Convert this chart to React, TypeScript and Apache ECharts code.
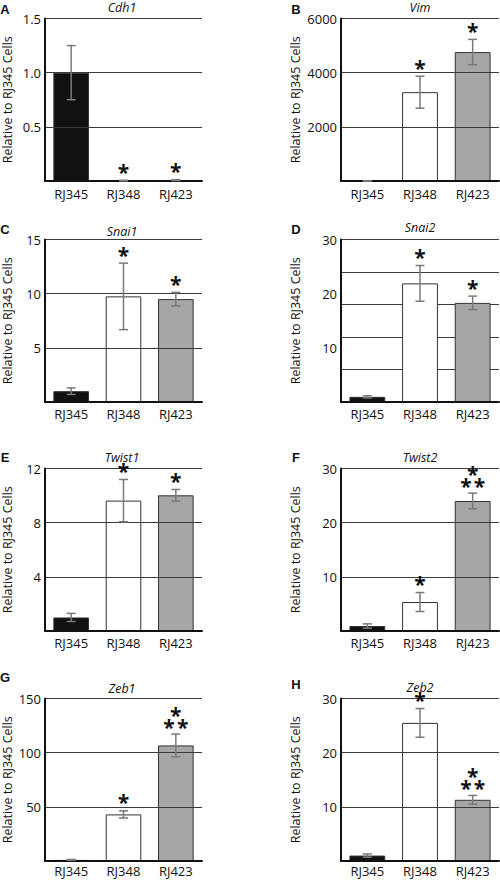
import React, { useEffect, useRef } from 'react';
import * as echarts from 'echarts';

// ---- data ----
const cellLines = ['RJ345', 'RJ348', 'RJ423'];
const yAxisName = 'Relative to RJ345 Cells';
const genes = ['Cdh1', 'Vim', 'Snai1', 'Snai2', 'Twist1', 'Twist2', 'Zeb1', 'Zeb2'];
const panelLetters = ['A', 'B', 'C', 'D', 'E', 'F', 'G', 'H'];

const cdh1Values = [1.0, 0.004, 0.008];
const cdh1Errors = [0.25, 0.003, 0.004];
const cdh1Stars = [0, 1, 1];

const vimValues = [1, 3280, 4760];
const vimErrors = [0.3, 590, 470];
const vimStars = [0, 1, 1];

const snai1Values = [1.0, 9.75, 9.5];
const snai1Errors = [0.3, 3.07, 0.62];
const snai1Stars = [0, 1, 1];

const snai2Values = [0.95, 21.9, 18.3];
const snai2Errors = [0.2, 3.3, 1.25];
const snai2Stars = [0, 1, 1];

const twist1Values = [1.0, 9.63, 10.02];
const twist1Errors = [0.3, 1.56, 0.43];
const twist1Stars = [0, 1, 1];

const twist2Values = [0.92, 5.35, 24.0];
const twist2Errors = [0.4, 1.75, 1.45];
const twist2Stars = [0, 1, 3];

const zeb1Values = [1.0, 43.0, 106.7];
const zeb1Errors = [0.4, 3.3, 10.5];
const zeb1Stars = [0, 1, 3];

const zeb2Values = [1.0, 25.5, 11.3];
const zeb2Errors = [0.3, 2.65, 0.8];
const zeb2Stars = [0, 1, 3];

const axisMax = [1.5, 6000, 15, 30, 12, 30, 150, 30];
const axisInterval = [0.5, 2000, 5, 10, 4, 10, 50, 10];
const labelDecimals = [1, 0, 0, 0, 0, 0, 0, 0];
// Snai2 panel has gridlines that do not match its labels
const snai2GridInterval = 6;

const allValues = [cdh1Values, vimValues, snai1Values, snai2Values, twist1Values, twist2Values, zeb1Values, zeb2Values];
const allErrors = [cdh1Errors, vimErrors, snai1Errors, snai2Errors, twist1Errors, twist2Errors, zeb1Errors, zeb2Errors];
const allStars = [cdh1Stars, vimStars, snai1Stars, snai2Stars, twist1Stars, twist2Stars, zeb1Stars, zeb2Stars];

// ---- layout / style ----
const FONT = 'Open Sans';
const barColors = ['#111111', '#ffffff', '#a6a6a6'];
const colLeft = [42, 341];
const colWidth = [160, 158];
const rowTop = [18.5, 239.5, 468.5, 698.5];
const plotHeight = 162.5;
const xLabelMargin = [6, 5, 5, 3];
const titleY = [7.5, 7, 231, 227.5, 457.5, 457.5, 688, 687];
const letterX = [5, 296];
const letterY = [9.5, 9, 229, 229, 457.5, 457.5, 677.5, 684];
const nameGaps = [31, 39];

function buildOption() {
  const grid: any[] = [];
  const xAxis: any[] = [];
  const yAxis: any[] = [];
  const series: any[] = [];
  const graphic: any[] = [];

  for (let i = 0; i < 8; i++) {
    const col = i % 2;
    const row = Math.floor(i / 2);
    grid.push({ left: colLeft[col], top: rowTop[row], width: colWidth[col], height: plotHeight });
    xAxis.push({
      type: 'category',
      gridIndex: i,
      data: cellLines,
      axisLine: { show: true, lineStyle: { color: '#111', width: 2 } },
      axisTick: { show: false },
      axisLabel: { color: '#111', fontSize: 13, fontFamily: FONT, margin: xLabelMargin[row], lineHeight: 14 },
      z: 5,
    });
    const dec = labelDecimals[i];
    yAxis.push({
      type: 'value',
      gridIndex: i,
      min: 0,
      max: axisMax[i],
      interval: axisInterval[i],
      name: yAxisName,
      nameLocation: 'middle',
      nameRotate: 90,
      nameGap: nameGaps[col],
      nameTextStyle: { color: '#111', fontSize: 12.5, fontFamily: FONT },
      axisLine: { show: true, lineStyle: { color: '#111', width: 2 } },
      axisTick: { show: false },
      axisLabel: {
        color: '#111',
        fontSize: 13,
        fontFamily: FONT,
        margin: 4,
        formatter: (v: number) => (v === 0 ? '' : v.toFixed(dec)),
      },
      splitLine: { show: i !== 3, lineStyle: { color: '#3a3a3a', width: 1 } },
      z: 5,
    });

    const vals = allValues[i];
    series.push({
      type: 'bar',
      xAxisIndex: i,
      yAxisIndex: i,
      barWidth: '68%',
      data: vals.map((v, j) => ({
        value: v,
        itemStyle: { color: barColors[j], borderColor: '#333', borderWidth: 1 },
      })),
      z: 2,
    });

    const errs = allErrors[i];
    const stars = allStars[i];
    series.push({
      type: 'custom',
      xAxisIndex: i,
      yAxisIndex: i,
      z: 6,
      data: vals.map((v, j) => [j, v, errs[j], stars[j]]),
      renderItem: (params: any, api: any) => {
        const x = api.value(0);
        const v = api.value(1);
        const e = api.value(2);
        const s = api.value(3);
        const top = api.coord([x, v + e]);
        const bot = api.coord([x, Math.max(0, v - e)]);
        const cx = top[0];
        const cap = 4.5;
        const ls = { stroke: '#7a7a7a', lineWidth: 1.5 };
        const children: any[] = [
          { type: 'line', shape: { x1: cx, y1: top[1], x2: cx, y2: bot[1] }, style: ls },
          { type: 'line', shape: { x1: cx - cap, y1: top[1], x2: cx + cap, y2: top[1] }, style: ls },
          { type: 'line', shape: { x1: cx - cap, y1: bot[1], x2: cx + cap, y2: bot[1] }, style: ls },
        ];
        const starStyle = {
          fontSize: 21,
          fontFamily: FONT,
          fontWeight: 'bold',
          fill: '#111',
          align: 'center',
          verticalAlign: 'middle',
          lineHeight: 12,
        };
        if (s === 1) {
          children.push({ type: 'text', x: cx, y: top[1] - 8.5, style: { ...starStyle, text: '*' } });
        } else if (s === 3) {
          children.push({
            type: 'text',
            x: cx,
            y: top[1] - 13,
            style: { ...starStyle, text: '*\n*\u200A*' },
          });
        }
        return { type: 'group', children };
      },
    });

    graphic.push({
      type: 'text',
      x: colLeft[col] + colWidth[col] / 2,
      y: titleY[i],
      style: {
        text: genes[i],
        fontSize: 12.5,
        fontStyle: 'italic',
        fontFamily: FONT,
        fill: '#111',
        align: 'center',
        verticalAlign: 'middle',
      },
    });
    graphic.push({
      type: 'text',
      x: letterX[col],
      y: letterY[i],
      style: {
        text: panelLetters[i],
        fontSize: 13,
        fontWeight: 'bold',
        fontFamily: 'Liberation Sans',
        fill: '#111',
        align: 'center',
        verticalAlign: 'middle',
      },
    });
  }

  // extra hidden axis that supplies Snai2's gridlines
  yAxis.push({
    type: 'value',
    gridIndex: 3,
    min: 0,
    max: axisMax[3],
    interval: snai2GridInterval,
    position: 'left',
    axisLine: { show: false },
    axisTick: { show: false },
    axisLabel: { show: false },
    splitLine: { show: true, lineStyle: { color: '#3a3a3a', width: 1 } },
  });

  return {
    animation: false,
    backgroundColor: '#ffffff',
    grid,
    xAxis,
    yAxis,
    series,
    graphic,
  };
}

export default function App() {
  const ref = useRef<HTMLDivElement>(null);
  useEffect(() => {
    if (!ref.current) return;
    const chart = echarts.init(ref.current, undefined, { renderer: 'svg' });
    chart.setOption(buildOption() as any);
    return () => chart.dispose();
  }, []);
  return (
    <div
      ref={ref}
      style={{ position: 'absolute', left: 0, top: 0, width: 500, height: 880, background: '#fff' }}
    />
  );
}
